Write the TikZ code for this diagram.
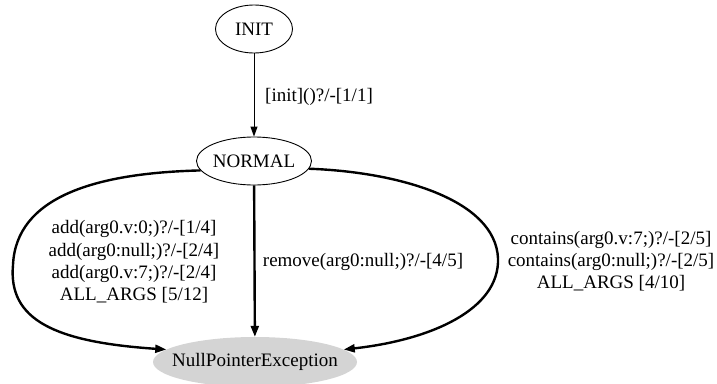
\documentclass[tikz,border=0pt]{standalone}
\usepackage{fontspec}
\setmainfont{Liberation Serif}
\usetikzlibrary{shapes.geometric,arrows.meta}

\begin{document}
\begin{tikzpicture}[x=1pt, y=-1pt,
    every node/.style={font=\fontsize{19}{22.3}\selectfont},
    statenode/.style={ellipse, draw, line width=0.9pt,
        inner ysep=0pt, minimum height=48pt},
    excnode/.style={ellipse, fill=black!17, inner xsep=-15pt,
        minimum width=204pt, minimum height=50pt},
    edgetext/.style={align=center, inner sep=0pt},
    thinedge/.style={-{Triangle[length=10pt,width=7pt]}, line width=0.9pt},
    thickedge/.style={-{Triangle[length=11pt,width=8pt]}, line width=2.4pt}
    ]
    \useasboundingbox (0,0) rectangle (717,383);
    \node[statenode, minimum width=77pt] (init) at (254,29) {INIT};
    \node[statenode, minimum width=115pt, inner xsep=-2pt] (normal) at (254,161) {NORMAL};
    \node[excnode] (npe) at (255,362) {NullPointerException};

    \draw[thinedge] (init) -- (normal);
    \draw[thickedge] (normal) -- (npe);
    \draw[thickedge] (normal.190) .. controls (95,173) and (16,197) .. (13,265)
        .. controls (8,320) and (55,342) .. (npe.172);
    \draw[thickedge] (normal.352) .. controls (400,172) and (495,200) .. (498,258)
        .. controls (500,310) and (430,340) .. (npe.8);

    \node[edgetext, anchor=west] (tinit) at (265,97) {[init]()?/-[1/1]};
    \node[edgetext] (tadd) at (134,262) {add(arg0.v:0;)?/-[1/4]\\
        add(arg0:null;)?/-[2/4]\\ add(arg0.v:7;)?/-[2/4]\\ ALL\_ARGS [5/12]};
    \node[edgetext] (tremove) at (363,262) {remove(arg0:null;)?/-[4/5]};
    \node[edgetext] (tcontains) at (611,261) {contains(arg0.v:7;)?/-[2/5]\\
        contains(arg0:null;)?/-[2/5]\\ ALL\_ARGS [4/10]};
\end{tikzpicture}
\end{document}
